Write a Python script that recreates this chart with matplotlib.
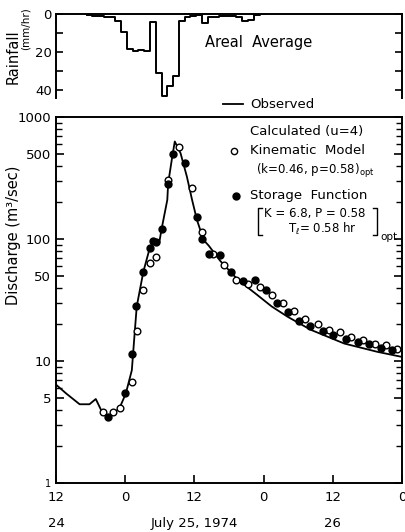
import numpy as np
import matplotlib
matplotlib.use("Agg")
import matplotlib.pyplot as plt
from matplotlib.lines import Line2D

# hours from July 25, 1974 0:00
obs_h = [-12, -10.2, -7.9, -6.2, -5.1, -3.9, -2.9, -1.0, 0.1, 1.15, 1.55, 2.0, 3.15, 4.25,
         5.0, 5.9, 6.3, 7.3, 7.45, 8.15, 8.6, 9.6, 10.7, 11.6, 12.45, 13.6, 14.5, 16.5,
         19.6, 22.5, 25.4, 28.2, 32.2, 38.0, 43.7, 48.0]
obs_q = [6.4, 5.4, 4.42, 4.42, 4.88, 3.72, 3.46, 4.1, 5.4, 8.4, 14.9, 28, 54, 84,
         97, 93, 120, 209, 286, 470, 630, 505, 324, 209, 143, 98, 88, 66,
         46, 36, 28, 23, 18, 13.9, 11.9, 10.8]

kin_h = [-3.9, -2.1, -0.9, 1.1, 2.1, 3.15, 4.3, 5.3, 7.4, 9.4, 11.5, 13.3, 15.3, 17.2,
         19.3, 21.3, 23.4, 25.4, 27.3, 29.3, 31.2, 33.4, 35.4, 37.2, 39.1, 41.3, 43.3,
         45.3, 47.2]
kin_q = [3.8, 3.8, 4.1, 6.7, 17.6, 38, 64, 71, 307, 565, 263, 115, 75, 61,
         46, 43, 40.7, 34.8, 29.8, 25.8, 21.9, 20, 17.9, 17.2, 15.8, 14.9, 13.9,
         13.5, 12.5]

sto_h = [-2.9, 0.0, 1.26, 1.9, 3.15, 4.25, 4.9, 5.4, 6.35, 7.45, 8.3, 10.4, 12.45, 13.4,
         14.5, 16.4, 18.3, 20.5, 22.5, 24.5, 26.4, 28.3, 30.2, 32.1, 34.3, 36.1, 38.3,
         40.3, 42.3, 44.3, 46.3]
sto_q = [3.46, 5.5, 11.4, 28, 54, 84, 97, 95, 121, 283, 494, 418, 152, 100,
         76, 74, 54, 45, 46, 38, 30, 25.4, 21.3, 19.3, 17.7, 16.3, 15.1,
         14.4, 13.8, 12.9, 12.3]

# hourly areal rainfall (mm/hr), bins start at rain_t
rain_t = [-6.7, -5.7, -4.7, -3.7, -2.7, -1.7, -0.7, 0.3, 1.3, 2.3, 3.3, 4.3, 5.3, 6.3,
          7.3, 8.3, 9.3, 10.3, 11.3, 12.3, 13.3, 14.3, 15.3, 16.3, 17.3, 18.3, 19.3,
          20.3, 21.3, 22.3, 23.3]
rain_v = [0.5, 1, 1, 1.5, 1.5, 3.8, 9.7, 18.5, 19.5, 19, 19.5, 4.4, 31, 43,
          38, 32.5, 3.6, 1.8, 1.2, 0.5, 4.5, 1.8, 1.5, 1.2, 1, 1, 1.5,
          3.5, 3, 0.3, 0]

xticks = [-12, 0, 12, 24, 36, 48]
xlabels = ["12", "0", "12", "0", "12", "0"]
yticks = [1, 5, 10, 50, 100, 500, 1000]

W, H = 406, 532
fig = plt.figure(figsize=(W / 100, H / 100), dpi=100)

def fx(x):
    return x / W

def fy(y):
    return 1 - y / H

lw_sp = 1.4

# --- rainfall panel ---
axr = fig.add_axes([fx(56), fy(97.5), fx(402) - fx(56), fy(14) - fy(97.5)])
axr.step(rain_t + [24.3], rain_v + [0], where="post", color="black", lw=1.4)
axr.set_xlim(-12, 48)
axr.set_ylim(44, 0)
axr.set_yticks([0, 20, 40])
axr.set_yticks([10, 30], minor=True)
axr.set_xticks([])
axr.spines["bottom"].set_visible(False)
for s in ["top", "left", "right"]:
    axr.spines[s].set_linewidth(lw_sp)
axr.tick_params(axis="y", which="both", direction="in", length=5, width=1.2,
                labelsize=9.5, right=True, pad=3)
axr.text(0.43, 0.6, "Areal  Average", transform=axr.transAxes, fontsize=10.5)

fig.text(fx(13), fy(57), "Rainfall", rotation=90, ha="center", va="center", fontsize=10.5)
fig.text(fx(26), fy(29), "(mm/hr)", rotation=90, ha="center", va="center", fontsize=7.5)

# --- discharge panel ---
ax = fig.add_axes([fx(56), fy(483), fx(402) - fx(56), fy(117) - fy(483)])
ax.set_yscale("log")
ax.plot(obs_h, obs_q, color="black", lw=1.3)
ax.plot(kin_h, kin_q, "o", ms=4.8, mfc="white", mec="black", mew=1.0)
ax.plot(sto_h, sto_q, "o", ms=5, mfc="black", mec="black")
ax.set_xlim(-12, 48)
ax.set_ylim(1, 1000)
ax.set_yticks(yticks)
ax.set_yticklabels([str(v) for v in yticks])
ax.get_yticklabels()[0].set_fontsize(7)
ax.set_xticks(xticks)
ax.set_xticklabels(xlabels)
for s in ax.spines.values():
    s.set_linewidth(lw_sp)
ax.tick_params(axis="both", which="major", direction="in", length=6, width=1.2,
               labelsize=9.5, right=True)
ax.get_yticklabels()[0].set_fontsize(7)
ax.tick_params(axis="y", which="minor", direction="in", length=4, width=1.0, right=True)
ax.tick_params(axis="y", which="minor", labelleft=False)
ax.tick_params(axis="x", pad=6)
fig.text(fx(14), fy(235), "Discharge (m³/sec)", rotation=90, ha="center", va="center",
         fontsize=10.5)

for xv, lab in [(-12, "24"), (12, "July 25, 1974"), (36, "26")]:
    ax.text(xv, -0.11, lab, transform=ax.get_xaxis_transform(), ha="center",
            va="center", fontsize=9.5)

# --- legend ---
fs = 9.5
fs2 = 8.5
fig.add_artist(Line2D([fx(223), fx(243)], [fy(104), fy(104)], color="black", lw=1.3))
fig.text(fx(250), fy(104), "Observed", va="center", fontsize=fs)
fig.text(fx(250), fy(132), "Calculated (u=4)", va="center", fontsize=fs)
fig.add_artist(Line2D([fx(234)], [fy(151)], marker="o", ms=4.5, mfc="white",
                      mec="black", mew=1.0))
fig.text(fx(250), fy(151), "Kinematic  Model", va="center", fontsize=fs)
fig.text(fx(256), fy(171), r"(k=0.46, p=0.58)$_{\rm opt}$", va="center", fontsize=fs2)
fig.add_artist(Line2D([fx(236)], [fy(196)], marker="o", ms=5, mfc="black", mec="black"))
fig.text(fx(250), fy(196), "Storage  Function", va="center", fontsize=fs)
fig.text(fx(264), fy(214), "K = 6.8, P = 0.58", va="center", fontsize=fs2)
fig.text(fx(288), fy(229), r"T$_\ell$= 0.58 hr", va="center", fontsize=fs2)
fig.text(fx(380), fy(237), "opt", va="center", fontsize=7.5)
for xb, d in [(258, 4), (377, -4)]:
    fig.add_artist(Line2D([fx(xb + d), fx(xb), fx(xb), fx(xb + d)],
                          [fy(208), fy(208), fy(235), fy(235)], color="black", lw=1.0))

fig.savefig("out.png", dpi=100)
